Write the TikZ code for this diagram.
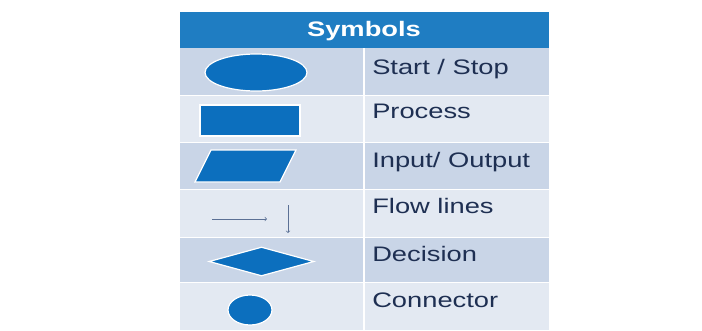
\documentclass[tikz,border=0pt]{standalone}
\usepackage{fontspec}
\setmainfont{Liberation Sans}
\usetikzlibrary{shapes.geometric,arrows}
\definecolor{headblue}{HTML}{1F7DC2}
\definecolor{rowdark}{HTML}{C9D5E7}
\definecolor{rowlight}{HTML}{E3E9F2}
\definecolor{symblue}{HTML}{0C6FBE}
\definecolor{labelnavy}{HTML}{1E2F52}
\definecolor{flowgray}{HTML}{5B7095}

\begin{document}
\begin{tikzpicture}[x=1pt, y=-1pt]
\tikzstyle{label}=[anchor=base west, inner sep=0pt, text=labelnavy, font=\fontsize{21}{25}\selectfont, xscale=1.3, transform shape]
\tikzstyle{symbol}=[fill=symblue, draw=white, line width=1.2pt, inner sep=0pt]
\tikzstyle{flowline}=[flowgray, line width=0.7pt, ->]
\useasboundingbox (0,0) rectangle (702,330);

% table
\fill[headblue] (179.5,12) rectangle (549,48);
\fill[rowdark] (179.5,48) rectangle (549,95);
\fill[rowlight] (179.5,95) rectangle (549,142);
\fill[rowdark] (179.5,142) rectangle (549,189);
\fill[rowlight] (179.5,189) rectangle (549,237);
\fill[rowdark] (179.5,237) rectangle (549,282);
\fill[rowlight] (179.5,282) rectangle (549,330);
\draw[white, line width=1.2pt] (364,48) -- (364,330);
\foreach \y in {95,142,189,237,282}
  \draw[white, line width=0.8pt] (179.5,\y) -- (549,\y);

\node[anchor=base, inner sep=0pt, text=white, font=\fontsize{21}{25}\selectfont\bfseries, xscale=1.3, transform shape] (Head) at (364,36) {Symbols};

% symbols
\node[symbol, ellipse, minimum width=102pt, minimum height=37pt] (Start) at (256,72.5) {};
\node[symbol, rectangle, minimum width=100pt, minimum height=31pt] (Proc) at (250,120.5) {};
\draw[symbol] (195,182) -- (280,182) -- (296,150) -- (211,150) -- cycle;
\coordinate (H0) at (212,219);
\coordinate (H1) at (267,219);
\coordinate (V0) at (288,205);
\coordinate (V1) at (288,233);
\draw[flowline] (H0) -- (H1);
\draw[flowline] (V0) -- (V1);
\node[symbol, diamond, minimum width=105pt, minimum height=29pt, aspect=3.6] (Dec) at (261.5,261.5) {};
\node[symbol, ellipse, minimum width=44pt, minimum height=30pt] (Conn) at (250,310) {};

% labels
\node[label] (L1) at (372,74) {Start / Stop};
\node[label] (L2) at (372,118) {Process};
\node[label] (L3) at (372,167) {Input/ Output};
\node[label] (L4) at (372,213) {Flow lines};
\node[label] (L5) at (372,261) {Decision};
\node[label] (L6) at (372,307) {Connector};
\end{tikzpicture}
\end{document}
